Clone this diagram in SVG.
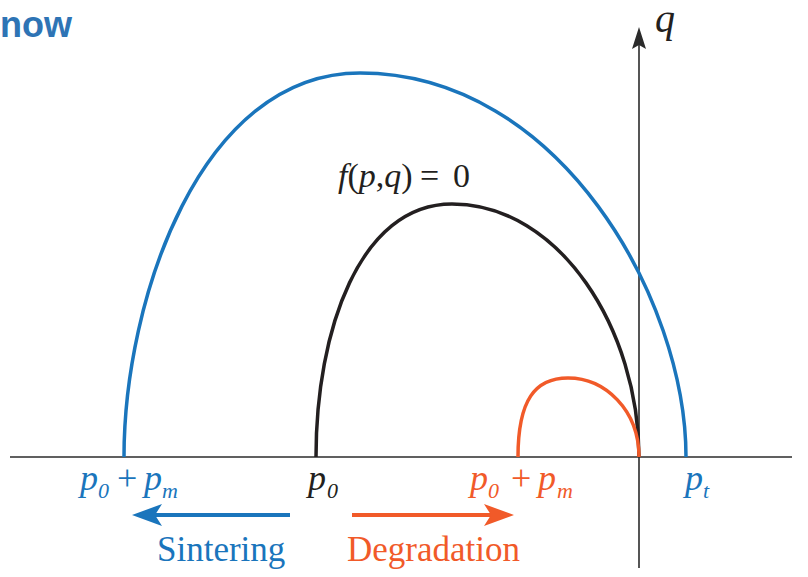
<svg xmlns="http://www.w3.org/2000/svg" width="808" height="577" viewBox="0 0 808 577">
<style>
.ax{stroke:#2b2b2b;stroke-width:1.6;fill:none}
.crv{fill:none;stroke-width:3.5;stroke-linecap:butt}
.it{font-family:"Liberation Serif",serif;font-style:italic}
.rm{font-family:"Liberation Serif",serif}
.blue{fill:#1a75bc}
.org{fill:#f15a29}
.blk{fill:#231f20}
</style>
<rect width="808" height="577" fill="#fff"/>
<g id="title"><text x="0" y="37" font-family="Liberation Sans,Arial,sans-serif" font-weight="bold" font-size="36" fill="#2e74b5">now</text></g>
<g id="connectors">
<line class="ax" x1="10" y1="457" x2="792" y2="457"/>
<line class="ax" x1="639" y1="40" x2="639" y2="568"/>
<path d="M639,27 L646,49 L639,45 L632,49 Z" fill="#2b2b2b"/>
<path d="M290,515 L150,515" stroke="#1a75bc" stroke-width="4"/>
<path d="M132,515 L162,504 L155,515 L162,526 Z" fill="#1a75bc"/>
<path d="M352,515 L495,515" stroke="#f15a29" stroke-width="4"/>
<path d="M514,515 L484,504 L491,515 L484,526 Z" fill="#f15a29"/>
</g>
<g id="blue-curve"><path class="crv" stroke="#1a75bc" d="M124,457 C124,300 200,73 360,73 C560,73 686,300 686,457"/></g>
<g id="black-curve"><path class="crv" stroke="#231f20" d="M316,457 C316,330 360,204 452,204 C560,204 639,330 639,457"/></g>
<g id="orange-curve"><path class="crv" stroke="#f15a29" d="M518,457 C518,400 535,378 568,378 C605,378 639,410 639,457"/></g>
<g id="q-label"><text class="it blk" x="655" y="32" font-size="40">q</text></g>
<g id="f-label" class="blk">
<text x="338" y="187" font-size="34"><tspan class="it">f</tspan><tspan class="rm">(</tspan><tspan class="it">p</tspan><tspan class="rm">,</tspan><tspan class="it">q</tspan><tspan class="rm">)</tspan></text>
<text class="rm" x="420" y="187" font-size="34">=</text>
<text class="rm" x="453" y="187" font-size="34">0</text>
</g>
<g id="blue-p0pm" class="blue">
<text class="it" x="80" y="490" font-size="36">p</text>
<text class="it" x="98" y="498" font-size="22">0</text>
<text class="rm" x="117" y="490" font-size="36">+</text>
<text class="it" x="144" y="490" font-size="36">p</text>
<text class="it" x="162" y="498" font-size="22">m</text>
</g>
<g id="black-p0" class="blk">
<text class="it" x="308" y="490" font-size="36">p</text>
<text class="it" x="327" y="498" font-size="22">0</text>
</g>
<g id="orange-p0pm" class="org">
<text class="it" x="470" y="490" font-size="36">p</text>
<text class="it" x="488" y="498" font-size="22">0</text>
<text class="rm" x="511" y="490" font-size="36">+</text>
<text class="it" x="538" y="490" font-size="36">p</text>
<text class="it" x="557" y="498" font-size="22">m</text>
</g>
<g id="pt" class="blue">
<text class="it" x="685" y="490" font-size="36">p</text>
<text class="it" x="703" y="498" font-size="22">t</text>
</g>
<g id="sintering"><text class="rm blue" x="157" y="561" font-size="35">Sintering</text></g>
<g id="degradation"><text class="rm org" x="347" y="561" font-size="35">Degradation</text></g>
</svg>
